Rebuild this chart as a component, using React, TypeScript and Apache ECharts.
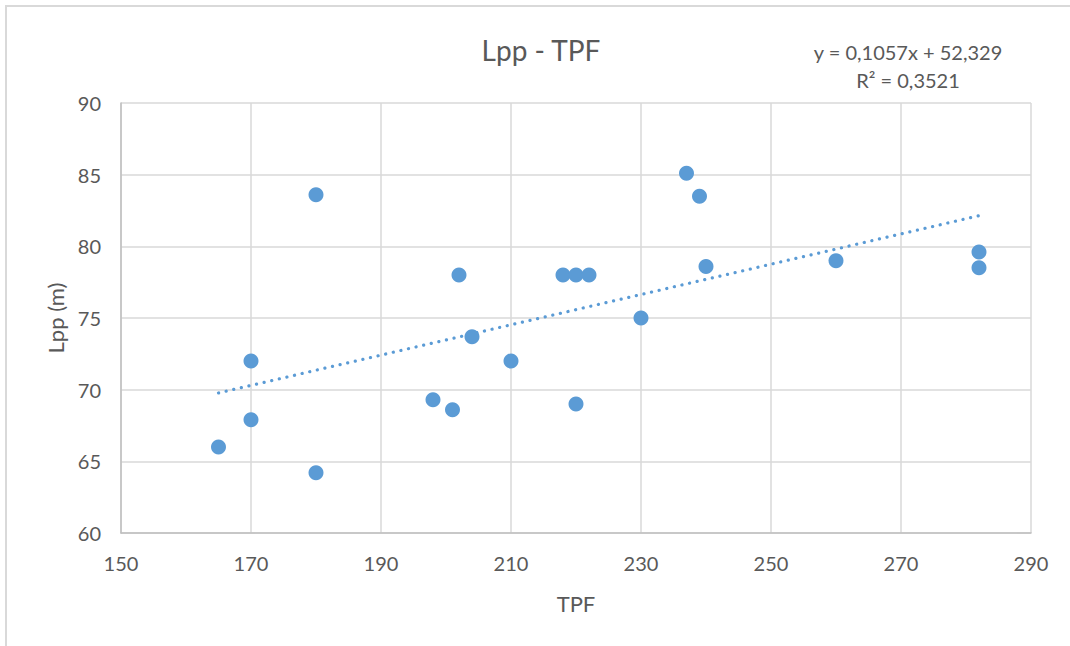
import React, { useEffect, useRef } from "react";
import * as echarts from "echarts";

const tpf = [165, 170, 170, 180, 180, 198, 201, 202, 204, 210, 218, 220, 222, 220, 230, 237, 239, 240, 260, 282, 282];
const lpp = [66, 72, 67.9, 83.6, 64.2, 69.3, 68.6, 78, 73.7, 72, 78, 78, 78, 69, 75, 85.1, 83.5, 78.6, 79, 79.6, 78.5];
const trendSlope = 0.1057;
const trendIntercept = 52.329;
const trendRange = [165, 282];
const xTicks = [150, 170, 190, 210, 230, 250, 270, 290];
const yTicks = [60, 65, 70, 75, 80, 85, 90];
const titleText = "Lpp - TPF";
const equationText = "y = 0,1057x + 52,329";
const r2Text = "R² = 0,3521";

const FONT = "Lato, 'Noto Sans', sans-serif";
const TXT = "#595959";
const BLUE = "#5B9BD5";

export default function App() {
  const ref = useRef<HTMLDivElement>(null);
  useEffect(() => {
    if (!ref.current) return;
    const chart = echarts.init(ref.current, undefined, { renderer: "svg" });
    const points = tpf.map((x, i) => [x, lpp[i]]);
    const trend = trendRange.map((x) => [x, trendSlope * x + trendIntercept]);
    chart.setOption({
      animation: false,
      backgroundColor: "#ffffff",
      textStyle: { fontFamily: FONT },
      grid: { left: 121, right: 39, top: 103, bottom: 113 },
      graphic: [
        {
          type: "rect",
          shape: { x: 6, y: 6, width: 1080, height: 660 },
          style: { fill: "none", stroke: "#D9D9D9", lineWidth: 2 },
          silent: true,
        },
        {
          type: "text",
          x: 541,
          y: 50,
          style: { text: titleText, fontSize: 28, fill: TXT, fontFamily: FONT, align: "center", verticalAlign: "middle" },
        },
        {
          type: "text",
          x: 908,
          y: 52,
          style: { text: equationText, fontSize: 20, fill: TXT, fontFamily: FONT, align: "center", verticalAlign: "middle" },
        },
        {
          type: "text",
          x: 908,
          y: 80,
          style: { text: r2Text, fontSize: 20, fill: TXT, fontFamily: FONT, align: "center", verticalAlign: "middle" },
        },
      ],
      xAxis: {
        type: "value",
        min: xTicks[0],
        max: xTicks[xTicks.length - 1],
        interval: 20,
        name: "TPF",
        nameLocation: "middle",
        nameGap: 59,
        nameTextStyle: { color: TXT, fontSize: 22, fontFamily: FONT },
        axisLine: { show: true, lineStyle: { color: "#BFBFBF", width: 1.5 } },
        axisTick: { show: false },
        axisLabel: { color: TXT, fontSize: 20, fontFamily: FONT, margin: 20 },
        splitLine: { show: true, lineStyle: { color: "#D9D9D9", width: 1.5 } },
      },
      yAxis: {
        type: "value",
        min: yTicks[0],
        max: yTicks[yTicks.length - 1],
        interval: 5,
        name: "Lpp (m)",
        nameLocation: "middle",
        nameGap: 54,
        nameRotate: 90,
        nameTextStyle: { color: TXT, fontSize: 22, fontFamily: FONT },
        axisLine: { show: true, lineStyle: { color: "#BFBFBF", width: 1.5 } },
        axisTick: { show: false },
        axisLabel: { color: TXT, fontSize: 20, fontFamily: FONT, margin: 20 },
        splitLine: { show: true, lineStyle: { color: "#D9D9D9", width: 1.5 } },
      },
      series: [
        {
          type: "line",
          data: trend,
          showSymbol: false,
          symbol: "none",
          lineStyle: { color: BLUE, width: 3.2, type: [0.1, 7.7], cap: "round" },
          z: 3,
          silent: true,
        },
        {
          type: "scatter",
          data: points,
          symbolSize: 15,
          itemStyle: { color: BLUE, opacity: 1 },
          z: 4,
        },
      ],
    });
    return () => chart.dispose();
  }, []);
  return <div ref={ref} style={{ position: "absolute", left: 0, top: 0, width: 1070, height: 646 }} />;
}
